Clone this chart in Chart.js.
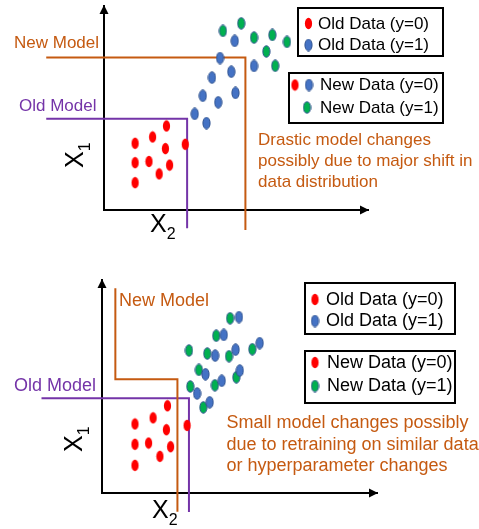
<!DOCTYPE html>
<html>
<head>
<meta charset="utf-8">
<script src="https://cdn.jsdelivr.net/npm/chart.js@4.4.1/dist/chart.umd.min.js"></script>
<style>
  html, body { margin: 0; padding: 0; background: #fff; }
  #wrap { position: relative; width: 479px; height: 529px; overflow: hidden; }
  canvas { position: absolute; left: 0; }
  #topChart { top: 0; }
  #bottomChart { top: 262px; }
</style>
</head>
<body>
<div id="wrap">
  <canvas id="topChart" width="479" height="262"></canvas>
  <canvas id="bottomChart" width="479" height="267"></canvas>
</div>
<script>
// --- Top panel: drastic change ---
const topRedX   = [23.9, 18.6, 11.9, 23.5, 31.1, 11.9, 17.2, 25.1, 21.1, 11.9];
const topRedY   = [41.2, 35.8, 32.7, 30.1, 32.2, 23.2, 23.8, 22.0, 17.7, 13.4];
const topBlueX  = [50.0, 44.4, 48.7, 41.3, 57.4, 37.8, 50.3, 43.7, 34.7, 39.2];
const topBlueY  = [82.9, 74.5, 67.8, 64.9, 70.6, 56.0, 57.4, 52.8, 47.1, 42.6];
const topGreenX = [45.5, 52.5, 57.4, 64.4, 62.1, 70.0, 65.5];
const topGreenY = [87.8, 91.5, 84.5, 85.8, 77.7, 82.4, 70.7];
const topOldModelX = [-22.1, 31.8, 31.8];
const topOldModelY = [44.7, 44.7, -8.9];
const topNewModelX = [-22.1, 54.1, 54.1];
const topNewModelY = [74.8, 74.8, -9.8];

// --- Bottom panel: small change ---
const botRedX   = [25.0, 19.5, 12.6, 24.6, 32.5, 12.6, 17.8, 26.2, 22.1, 12.6];
const botRedY   = [42.6, 36.7, 33.7, 30.9, 33.0, 23.8, 24.4, 22.6, 17.9, 13.5];
const botBlueX  = [52.3, 46.5, 43.2, 51.0, 60.2, 39.5, 52.6, 45.7, 36.3, 41.1];
const botBlueY  = [85.9, 77.2, 67.1, 70.0, 73.2, 58.0, 59.8, 54.8, 48.6, 44.3];
const botGreenX = [48.9, 43.6, 33.2, 40.2, 48.5, 57.4, 37.0, 51.3, 43.1, 33.7, 38.7];
const botGreenY = [85.3, 76.8, 69.6, 68.1, 66.8, 70.2, 60.1, 56.5, 52.6, 52.0, 41.8];
const botOldModelX = [-23.1, 33.2, 33.2];
const botOldModelY = [46.3, 46.3, -9.3];
const botNewModelX = [5.1, 5.1, 28.8, 28.8];
const botNewModelY = [100.0, 55.6, 55.6, -9.1];

// --- Text ---
const modelNames = ['New Model', 'Old Model'];
const legendOld = ['Old Data (y=0)', 'Old Data (y=1)'];
const legendNew = ['New Data (y=0)', 'New Data (y=1)'];
const topNote = ['Drastic model changes', 'possibly due to major shift in', 'data distribution'];
const botNote = ['Small model changes possibly', 'due to retraining on similar data', 'or hyperparameter changes'];

const ORANGE = '#C55A11';
const PURPLE = '#7434A8';
const FONT = '"Liberation Sans", Arial, sans-serif';

document.addEventListener('DOMContentLoaded', () => {

    // --- ellipse markers ---
    function makeDot(fill, stroke) {
        const c = document.createElement('canvas');
        c.width = 9; c.height = 13;
        const g = c.getContext('2d');
        g.beginPath();
        g.ellipse(4.5, 6.5, 3.6, 5.8, 0, 0, Math.PI * 2);
        g.fillStyle = fill;
        g.fill();
        if (stroke) {
            g.lineWidth = 1;
            g.strokeStyle = stroke;
            g.stroke();
        }
        return c;
    }
    const dots = {
        red: makeDot('#FF0000', null),
        blue: makeDot('#4472C4', '#2F528F'),
        green: makeDot('#00B050', '#2F528F')
    };

    const zip = (xs, ys) => xs.map((x, i) => ({ x: x, y: ys[i] }));

    function pointSet(xs, ys, dot, order) {
        return { data: zip(xs, ys), pointStyle: dot, pointRadius: 5, order: order, showLine: false };
    }
    function lineSet(xs, ys, color, order) {
        return {
            data: zip(xs, ys), showLine: true, borderColor: color, borderWidth: 2,
            pointRadius: 0, fill: false, tension: 0, clip: false, order: order,
            borderJoinStyle: 'miter'
        };
    }

    // --- overlay: arrows, labels, legend boxes, notes ---
    function drawSubscript(ctx, x, y, sub, size, rotated) {
        ctx.save();
        ctx.translate(x, y);
        if (rotated) ctx.rotate(-Math.PI / 2);
        ctx.fillStyle = '#000';
        ctx.textBaseline = 'alphabetic';
        ctx.textAlign = 'left';
        ctx.font = size + 'px ' + FONT;
        ctx.fillText('X', 0, 0);
        const w = ctx.measureText('X').width;
        ctx.font = Math.round(size * 0.64) + 'px ' + FONT;
        ctx.fillText(sub, w, 7);
        ctx.restore();
    }

    function overlay(spec) {
        return {
            id: 'overlay',
            afterDraw(chart) {
                const ctx = chart.ctx;
                const { left, right, top, bottom } = chart.chartArea;
                ctx.save();

                // arrow heads
                ctx.fillStyle = '#000';
                ctx.beginPath();
                ctx.moveTo(left, top - 1);
                ctx.lineTo(left - 4.5, top + 8);
                ctx.lineTo(left + 4.5, top + 8);
                ctx.closePath();
                ctx.fill();
                ctx.beginPath();
                ctx.moveTo(right + 1, bottom);
                ctx.lineTo(right - 8, bottom - 4.5);
                ctx.lineTo(right - 8, bottom + 4.5);
                ctx.closePath();
                ctx.fill();

                // axis names
                drawSubscript(ctx, spec.x1[0], spec.x1[1], '1', spec.axisSize, true);
                drawSubscript(ctx, spec.x2[0], spec.x2[1], '2', spec.axisSize, false);

                ctx.textBaseline = 'middle';
                ctx.textAlign = 'left';
                ctx.font = spec.size + 'px ' + FONT;

                // model names
                ctx.fillStyle = ORANGE;
                ctx.fillText(modelNames[0], spec.newLabel[0], spec.newLabel[1]);
                ctx.fillStyle = PURPLE;
                ctx.fillText(modelNames[1], spec.oldLabel[0], spec.oldLabel[1]);

                // note
                ctx.fillStyle = ORANGE;
                spec.note.y.forEach((y, i) => ctx.fillText(spec.note.lines[i], spec.note.x, y));

                // legend boxes
                spec.boxes.forEach(b => {
                    ctx.strokeStyle = '#000';
                    ctx.lineWidth = 2;
                    ctx.strokeRect(b.rect[0], b.rect[1], b.rect[2], b.rect[3]);
                    b.rows.forEach(r => {
                        r.dots.forEach(d => ctx.drawImage(dots[d[1]], d[0] - 4.5, r.y - 6.5));
                        ctx.fillStyle = '#000';
                        ctx.fillText(r.text, r.tx, r.y + 0.5);
                    });
                });
                ctx.restore();
            }
        };
    }

    function baseOptions(xMax, yMax, padding) {
        const axis = (max, vertical) => ({
            type: 'linear', min: 0, max: max,
            grid: { display: false, drawTicks: false },
            ticks: { display: false },
            border: { display: true, color: '#000', width: 2 },
            afterFit: s => { if (vertical) s.width = 0; else s.height = 0; }
        });
        return {
            responsive: false,
            animation: false,
            devicePixelRatio: 1,
            events: [],
            layout: { padding: padding },
            plugins: { legend: { display: false }, tooltip: { enabled: false } },
            scales: { x: axis(xMax, false), y: axis(yMax, true) }
        };
    }

    // --- Top chart ---
    new Chart(document.getElementById('topChart').getContext('2d'), {
        type: 'scatter',
        data: {
            datasets: [
                pointSet(topBlueX, topBlueY, dots.blue, 1),
                pointSet(topGreenX, topGreenY, dots.green, 2),
                pointSet(topRedX, topRedY, dots.red, 3),
                lineSet(topNewModelX, topNewModelY, ORANGE, 4),
                lineSet(topOldModelX, topOldModelY, PURPLE, 5)
            ]
        },
        options: baseOptions(101, 100, { left: 104, right: 111, top: 5, bottom: 52 }),
        plugins: [overlay({
            size: 17, axisSize: 25,
            x1: [83, 168], x2: [150, 232],
            newLabel: [14, 43.5], oldLabel: [19, 106.5],
            note: { x: 258, y: [140, 161.5, 182.5], lines: topNote },
            boxes: [
                { rect: [298, 8, 145, 48], rows: [
                    { y: 23.5, tx: 318, text: legendOld[0], dots: [[308.5, 'red']] },
                    { y: 45, tx: 318, text: legendOld[1], dots: [[308.5, 'blue']] }
                ] },
                { rect: [289, 73, 154, 50], rows: [
                    { y: 85, tx: 320, text: legendNew[0], dots: [[295, 'red'], [309, 'blue']] },
                    { y: 107.5, tx: 320, text: legendNew[1], dots: [[307, 'green']] }
                ] }
            ]
        })]
    });

    // --- Bottom chart ---
    new Chart(document.getElementById('bottomChart').getContext('2d'), {
        type: 'scatter',
        data: {
            datasets: [
                pointSet(botBlueX, botBlueY, dots.blue, 1),
                pointSet(botGreenX, botGreenY, dots.green, 2),
                pointSet(botRedX, botRedY, dots.red, 3),
                lineSet(botNewModelX, botNewModelY, ORANGE, 4),
                lineSet(botOldModelX, botOldModelY, PURPLE, 5)
            ]
        },
        options: baseOptions(105, 104, { left: 102, right: 102, top: 18, bottom: 36 }),
        plugins: [overlay({
            size: 18, axisSize: 25,
            x1: [82, 190], x2: [152, 256],
            newLabel: [119, 39.5], oldLabel: [14, 124],
            note: { x: 226.5, y: [161.5, 183, 204.5], lines: botNote },
            boxes: [
                { rect: [305, 21, 150, 51], rows: [
                    { y: 37.5, tx: 326, text: legendOld[0], dots: [[315, 'red']] },
                    { y: 59, tx: 326, text: legendOld[1], dots: [[315, 'blue']] }
                ] },
                { rect: [305, 89, 150, 52], rows: [
                    { y: 100.5, tx: 327, text: legendNew[0], dots: [[315, 'red']] },
                    { y: 124, tx: 327, text: legendNew[1], dots: [[315, 'green']] }
                ] }
            ]
        })]
    });
});
</script>
</body>
</html>
